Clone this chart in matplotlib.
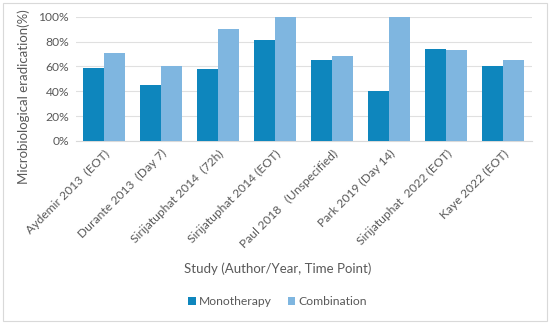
import numpy as np
import matplotlib
matplotlib.use("Agg")
import matplotlib.pyplot as plt
from matplotlib.patches import Rectangle
from matplotlib.ticker import PercentFormatter

studies = [
    "Aydemir 2013  (EOT)",
    "Durante 2013  (Day 7)",
    "Sirijatuphat 2014  (72h)",
    "Sirijatuphat 2014 (EOT)",
    "Paul 2018   (Unspecified)",
    "Park 2019 (Day 14)",
    "Sirijatuphat  2022 (EOT)",
    "Kaye 2022 (EOT)",
]
monotherapy = [59, 45, 58, 81, 65, 40, 74, 60]
combination = [71, 60, 90, 100, 68.5, 100, 73, 65]

grey = "#595959"
plt.rcParams["font.family"] = ["Lato", "DejaVu Sans"]

fig = plt.figure(figsize=(5.5, 3.24), dpi=100)
ax = fig.add_axes([0.138, 0.565, 0.829, 0.383])

x = np.arange(len(studies))
w = 0.368
ax.bar(x - w / 2, monotherapy, w, color="#0E86BD", label="Monotherapy", zorder=3)
ax.bar(x + w / 2, combination, w, color="#7FB6E0", label="Combination", zorder=3)

ax.set_xlim(-0.5, len(studies) - 0.5)
ax.set_ylim(0, 100)
ax.set_yticks(np.arange(0, 101, 20))
ax.yaxis.set_major_formatter(PercentFormatter(decimals=0))
ax.grid(axis="y", color="#E0E0E0", linewidth=0.8, zorder=0)
for s in ["top", "right", "left"]:
    ax.spines[s].set_visible(False)
ax.spines["bottom"].set_color("#D9D9D9")

ax.set_xticks(x)
ax.set_xticklabels(studies, rotation=45, ha="right", rotation_mode="anchor",
                   fontsize=8.7, color=grey)
ax.tick_params(axis="both", length=0, labelsize=8.7, colors=grey, pad=5)

ax.set_ylabel("Microbiological eradication(%)", fontsize=9.5, color=grey)
ax.yaxis.set_label_coords(-0.1, 0.36)
fig.text(0.505, 0.172, "Study (Author/Year, Time Point)", ha="center", va="center",
         fontsize=9.5, color=grey)

fig.legend(loc="center", bbox_to_anchor=(0.505, 0.068), ncol=2, frameon=False,
           fontsize=8.7, labelcolor=grey, handlelength=0.6, handleheight=0.6,
           columnspacing=1.3, handletextpad=0.3)

fig.patches.append(Rectangle((0.006, 0.008), 0.988, 0.984, transform=fig.transFigure,
                             fill=False, edgecolor="#D9D9D9", linewidth=0.8))

fig.savefig("out.png", dpi=100)
